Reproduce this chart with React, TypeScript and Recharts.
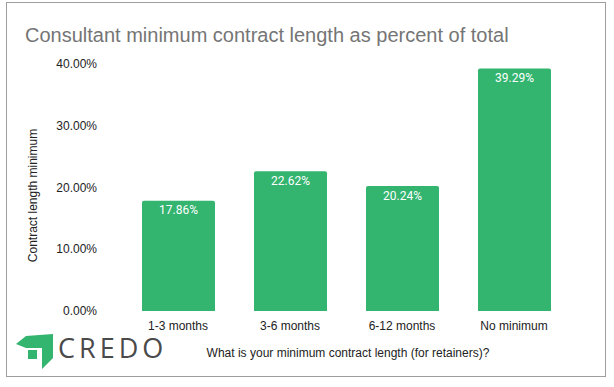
import React from 'react';
import { BarChart, Bar, XAxis, YAxis, LabelList, Label } from 'recharts';

// ── Data ──────────────────────────────────────────────
const CATEGORIES = ['1-3 months', '3-6 months', '6-12 months', 'No minimum'];
const SHARES = [0.1786, 0.2262, 0.2024, 0.3929];
const Y_TICKS = [0, 0.1, 0.2, 0.3, 0.4];

const TITLE = 'Consultant minimum contract length as percent of total';
const X_TITLE = 'What is your minimum contract length (for retainers)?';
const Y_TITLE = 'Contract length minimum';

const GREEN = '#33b46f';
const ARIAL = '"Liberation Sans", Arial, sans-serif';

const data = CATEGORIES.map((c, i) => ({ name: c, value: SHARES[i] }));
const pct = (v: number) => `${(v * 100).toFixed(2)}%`;

const YTick = ({ x, y, payload }: any) => (
  <text x={x - 17} y={y} dy={4} textAnchor="end" fontSize={12} fill="#222" fontFamily={ARIAL}>
    {pct(payload.value)}
  </text>
);

const Logo = () => (
  <svg width={170} height={45} style={{ position: 'absolute', left: 10, top: 330 }}>
    {/* green folded mark */}
    <polygon points="6,14 16,6 43,4 43,28 32,39 32,18 16,18" fill={GREEN} />
    <rect x={18} y={20} width={9} height={9} fill={GREEN} />
    <text x={48} y={28} fontSize={27} fill="#4a4a4a" letterSpacing={4}
      fontFamily='"Open Sans", sans-serif'>CREDO</text>
  </svg>
);

export default function App() {
  return (
    <div style={{ position: 'absolute', left: 0, top: 0, width: 614, height: 387, background: '#fff' }}>
      {/* frame */}
      <div style={{
        position: 'absolute', left: 6, top: 2, width: 600, height: 375,
        border: '1px solid #9e9e9e', boxSizing: 'border-box',
      }} />
      <div style={{
        position: 'absolute', left: 25, top: 24, fontSize: 20, color: '#757575',
        fontFamily: ARIAL, whiteSpace: 'nowrap',
      }}>{TITLE}</div>
      <BarChart width={614} height={387} data={data}
        margin={{ top: 64, right: 44, left: 0, bottom: 0 }}
        style={{ position: 'absolute', left: 0, top: 0 }}>
        <XAxis dataKey="name" axisLine={false} tickLine={false} height={76}
          tick={{ fontSize: 12, fill: '#222', fontFamily: ARIAL }} tickMargin={4}>
          <Label value={X_TITLE} position="insideTop" offset={37}
            style={{ fontSize: 12, fill: '#222', fontFamily: ARIAL }} dx={2} />
        </XAxis>
        <YAxis width={122} domain={[0, 0.4]} ticks={Y_TICKS} axisLine={false} tickLine={false}
          tick={<YTick />}>
          <Label value={Y_TITLE} angle={-90} position="insideLeft" offset={0}
            style={{ fontSize: 12, fill: '#222', fontFamily: ARIAL, textAnchor: 'middle' }} dx={33} dy={8} />
        </YAxis>
        <Bar dataKey="value" fill={GREEN} barSize={73} radius={[2, 2, 0, 0]} isAnimationActive={false}>
          <LabelList dataKey="value" position="insideTop" offset={5} formatter={(v: any) => pct(v)}
            style={{ fill: '#fff', fontSize: 12, fontFamily: 'Roboto, sans-serif' }} />
        </Bar>
      </BarChart>
      <Logo />
    </div>
  );
}
